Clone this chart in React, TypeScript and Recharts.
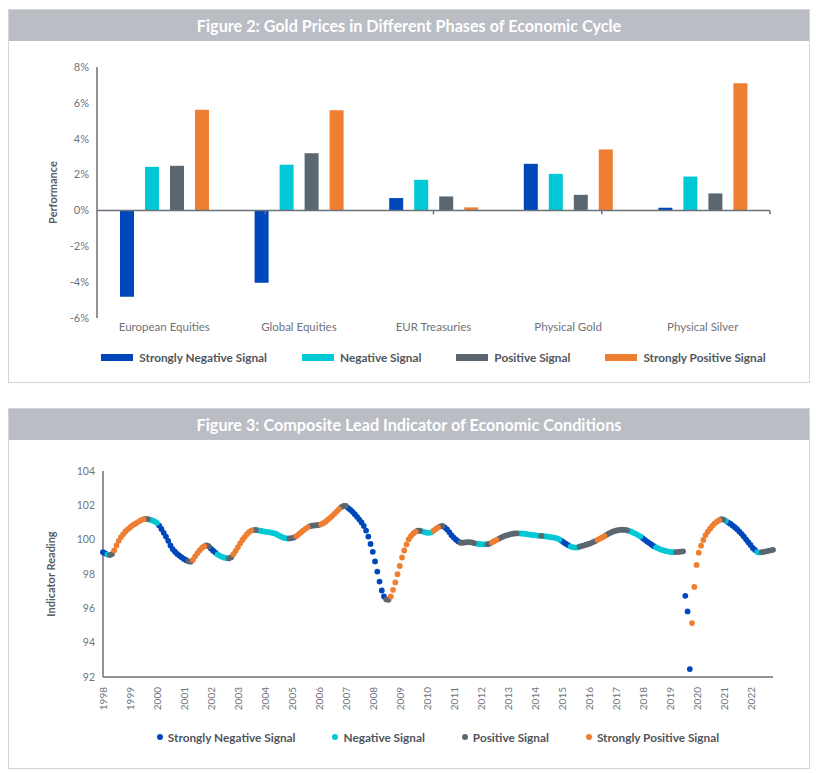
import React from 'react';
import { BarChart, Bar, XAxis, YAxis, ReferenceLine, ScatterChart, Scatter, Label } from 'recharts';

const FONT = 'Lato, "Open Sans", sans-serif';
const AXIS = '#6b7178';
const TICK = '#6f737a';
const LEGEND_TXT = '#4f555c';
const TITLE_BG = '#babdc4';
const BORDER = '#d3d4d7';

const signalNames = ['Strongly Negative Signal', 'Negative Signal', 'Positive Signal', 'Strongly Positive Signal'];
const signalColors = ['#0047bb', '#00c8d4', '#5b6770', '#ee7f32'];
const signalCodes = ['B', 'C', 'G', 'O'];

// ---------- Figure 2 data ----------
const assetClasses = ['European Equities', 'Global Equities', 'EUR Treasuries', 'Physical Gold', 'Physical Silver'];
const stronglyNegative = [-4.82, -4.03, 0.69, 2.6, 0.15];
const negative = [2.43, 2.55, 1.71, 2.04, 1.89];
const positive = [2.49, 3.19, 0.78, 0.87, 0.95];
const stronglyPositive = [5.61, 5.59, 0.17, 3.4, 7.09];
const perfTicks = [-6, -4, -2, 0, 2, 4, 6, 8];

// ---------- Figure 3 data (monthly) ----------
const yearLabels = ['1998', '1999', '2000', '2001', '2002', '2003', '2004', '2005', '2006', '2007', '2008', '2009', '2010', '2011', '2012', '2013', '2014', '2015', '2016', '2017', '2018', '2019', '2020', '2021', '2022'];
const cliTicks = [92, 94, 96, 98, 100, 102, 104];
const cliValues = [
  99.27, 99.2, 99.13, 99.1, 99.16, 99.38, 99.66, 99.93, 100.15, 100.32, 100.48, 100.6,
  100.71, 100.82, 100.9, 100.98, 101.07, 101.14, 101.19, 101.21, 101.2, 101.16, 101.12, 101.06,
  100.98, 100.82, 100.62, 100.4, 100.18, 99.93, 99.66, 99.45, 99.3, 99.17, 99.07, 98.97,
  98.88, 98.8, 98.74, 98.72, 98.82, 99.03, 99.22, 99.38, 99.52, 99.62, 99.67, 99.62,
  99.48, 99.36, 99.25, 99.14, 99.06, 99.0, 98.95, 98.92, 98.91, 98.98, 99.15, 99.34,
  99.56, 99.78, 99.98, 100.15, 100.32, 100.45, 100.53, 100.56, 100.57, 100.54, 100.52, 100.49,
  100.47, 100.45, 100.43, 100.41, 100.38, 100.33, 100.26, 100.19, 100.13, 100.09, 100.07, 100.07,
  100.09, 100.13, 100.21, 100.31, 100.42, 100.53, 100.63, 100.72, 100.78, 100.81, 100.83, 100.84,
  100.86, 100.9, 100.96, 101.05, 101.16, 101.27, 101.39, 101.52, 101.65, 101.78, 101.89, 101.96,
  101.97, 101.85, 101.75, 101.62, 101.48, 101.33, 101.17, 101.0, 100.8, 100.53, 100.18, 99.75,
  99.29, 98.73, 98.14, 97.56, 97.04, 96.69, 96.52, 96.5, 96.69, 97.08, 97.51, 97.99,
  98.47, 98.96, 99.37, 99.72, 100.03, 100.22, 100.36, 100.46, 100.52, 100.52, 100.48, 100.44,
  100.41, 100.4, 100.43, 100.52, 100.62, 100.71, 100.78, 100.8, 100.72, 100.6, 100.44, 100.26,
  100.12, 100.0, 99.9, 99.82, 99.82, 99.84, 99.86, 99.86, 99.84, 99.8, 99.77, 99.75,
  99.74, 99.73, 99.73, 99.74, 99.77, 99.84, 99.91, 99.98, 100.05, 100.12, 100.18, 100.23,
  100.27, 100.31, 100.34, 100.36, 100.37, 100.37, 100.36, 100.35, 100.33, 100.31, 100.29, 100.27,
  100.26, 100.24, 100.23, 100.22, 100.21, 100.19, 100.17, 100.15, 100.13, 100.11, 100.07, 100.01,
  99.93, 99.84, 99.75, 99.67, 99.6, 99.56, 99.54, 99.55, 99.59, 99.63, 99.67, 99.71,
  99.75, 99.8, 99.86, 99.92, 99.99, 100.06, 100.13, 100.2, 100.28, 100.36, 100.42, 100.48,
  100.52, 100.55, 100.57, 100.58, 100.57, 100.55, 100.51, 100.46, 100.4, 100.34, 100.27, 100.19,
  100.09, 99.99, 99.89, 99.8, 99.71, 99.62, 99.55, 99.49, 99.44, 99.39, 99.35, 99.32,
  99.29, 99.27, 99.27, 99.28, 99.29, 99.3, 99.32, 96.73, 95.82, 92.46, 95.14, 97.25,
  98.53, 99.24, 99.65, 99.98, 100.27, 100.47, 100.64, 100.8, 100.94, 101.05, 101.13, 101.19,
  101.17, 101.1, 101.01, 100.93, 100.83, 100.73, 100.61, 100.48, 100.34, 100.19, 100.02, 99.85,
  99.69, 99.52, 99.4, 99.28, 99.25, 99.27, 99.29, 99.32, 99.35, 99.38, 99.41,
];
// signal per month, one string per year (B strongly negative, C negative, G positive, O strongly positive)
const cliSignals = [
  'BBCGGOOOOOOO', 'OOOOOOOGGCCC', 'CBBBBBBBBBBB', 'BBGGOOOOOOGG', 'BBBCCCCCGGOO',
  'OOOOOOOGGCCC', 'CCCCCCCCCCCG', 'GGOOOOOOGGGG', 'GOOOOOOOOOGG', 'GBBBBBBBBBBB',
  'BBBBBBGGOOOO', 'OOOOOOOOGGCC', 'CCCOOOGGBBBB', 'BBBGGGGGGGCC', 'CCCGGOOOGGGG',
  'GGGGGCCCCCCC', 'CCCGCCCCCCCC', 'BBBBCCCCGGGG', 'GGGGOOOOGGGG', 'GGGGGGCCCCCC',
  'BBBBBBCCCCCC', 'CCCGGGGBBBOO', 'OOOOOOOOOOOG', 'GCBBBBBBBBBB', 'BBBCCGGGGGG',
];

const barData = assetClasses.map((name, i) => ({
  name,
  sneg: stronglyNegative[i],
  neg: negative[i],
  pos: positive[i],
  spos: stronglyPositive[i],
}));
const barKeys = ['sneg', 'neg', 'pos', 'spos'];

const flatSignals = cliSignals.join('').split('');
const cliPoints = cliValues.map((v, i) => ({ x: i, y: v, s: signalCodes.indexOf(flatSignals[i]) }));
const seriesPoints = signalCodes.map((_, k) => cliPoints.filter((p) => p.s === k));
const yearTicks = yearLabels.map((_, k) => k * 12);
const lastIndex = cliValues.length - 1;

const VerticalTitle = ({ viewBox, value, off }: any) => {
  const cx = viewBox.x + off;
  const cy = viewBox.y + viewBox.height / 2;
  return (
    <text
      x={cx}
      y={cy}
      transform={`rotate(-90 ${cx} ${cy})`}
      textAnchor="middle"
      dominantBaseline="central"
      fill="#565c63"
      fontSize={11}
      fontWeight={700}
      fontFamily={FONT}
    >
      {value}
    </text>
  );
};

const YearTick = (props: any) => {
  const { x, y, payload } = props;
  const ty = y + 2;
  return (
    <text
      x={x}
      y={ty}
      transform={`rotate(-90 ${x} ${ty})`}
      textAnchor="end"
      dominantBaseline="central"
      fill={TICK}
      fontSize={10}
      fontFamily={FONT}
    >
      {yearLabels[Math.round(payload.value / 12)]}
    </text>
  );
};

const titleStyle: React.CSSProperties = {
  position: 'absolute',
  left: 0,
  top: 0,
  right: 0,
  height: 31,
  background: TITLE_BG,
  color: '#ffffff',
  fontFamily: FONT,
  fontWeight: 700,
  fontSize: 16.2,
  lineHeight: '31px',
  textAlign: 'center',
};

const panelStyle = (top: number, height: number): React.CSSProperties => ({
  position: 'absolute',
  left: 0,
  top,
  width: 802,
  height,
  boxSizing: 'border-box',
  border: `1px solid ${BORDER}`,
  background: '#ffffff',
});

export default function App() {
  return (
    <div style={{ position: 'relative', width: 802, height: 765, fontFamily: FONT }}>
      <div style={panelStyle(1, 374)}>
        <div style={titleStyle}>Figure 2: Gold Prices in Different Phases of Economic Cycle</div>
      </div>
      <div style={panelStyle(400, 361)}>
        <div style={titleStyle}>Figure 3: Composite Lead Indicator of Economic Conditions</div>
      </div>

      <div style={{ position: 'absolute', left: 0, top: 33 }}>
        <BarChart
          width={802}
          height={307}
          data={barData}
          margin={{ top: 26, right: 40, bottom: 0, left: 0 }}
          barSize={14}
          barGap={11}
        >
          <XAxis
            dataKey="name"
            axisLine={false}
            tickLine={false}
            tickSize={5}
            tickMargin={0}
            interval={0}
            height={30}
            tick={{ fill: TICK, fontSize: 11.5, fontFamily: FONT }}
          />
          <XAxis xAxisId="b" type="number" domain={[0, 5]} hide />
          <YAxis
            width={89}
            domain={[-6, 8]}
            ticks={perfTicks}
            interval={0}
            tickFormatter={(v: number) => `${v}%`}
            axisLine={{ stroke: AXIS, strokeWidth: 1.5 }}
            tickLine={false}
            tick={{ fill: TICK, fontSize: 11, fontFamily: FONT }}
            label={<Label content={(p: any) => <VerticalTitle viewBox={p.viewBox} value="Performance" off={44} />} />}
          />
          {barKeys.map((k, i) => (
            <Bar key={k} dataKey={k} fill={signalColors[i]} isAnimationActive={false} />
          ))}
          <ReferenceLine y={0} stroke={AXIS} strokeWidth={1.5} />
          {[1, 2, 3, 4, 5].map((k) => (
            <ReferenceLine
              key={k}
              xAxisId="b"
              segment={[{ x: k, y: 0 }, { x: k, y: -0.22 }]}
              stroke={AXIS}
              strokeWidth={1.5}
            />
          ))}
        </BarChart>
      </div>

      <div
        style={{
          position: 'absolute',
          left: 89,
          width: 673,
          top: 341,
          height: 16,
          display: 'flex',
          justifyContent: 'center',
          alignItems: 'center',
          gap: 35,
        }}
      >
        {signalNames.map((n, i) => (
          <div key={n} style={{ display: 'flex', alignItems: 'center' }}>
            <div style={{ width: 32, height: 7, background: signalColors[i], marginRight: 6 }} />
            <span style={{ fontSize: 11.8, fontWeight: 700, color: LEGEND_TXT, whiteSpace: 'nowrap' }}>{n}</span>
          </div>
        ))}
      </div>

      <div style={{ position: 'absolute', left: 0, top: 433 }}>
        <ScatterChart width={802} height={276} margin={{ top: 30, right: 37, bottom: 0, left: 0 }}>
          <XAxis
            type="number"
            dataKey="x"
            domain={[0, lastIndex]}
            ticks={yearTicks}
            interval={0}
            axisLine={{ stroke: AXIS, strokeWidth: 1.5 }}
            tickLine={false}
            height={40}
            tick={(p: any) => <YearTick {...p} />}
          />
          <YAxis
            type="number"
            dataKey="y"
            width={95}
            domain={[92, 104]}
            ticks={cliTicks}
            interval={0}
            axisLine={{ stroke: AXIS, strokeWidth: 1.5 }}
            tickLine={false}
            tick={{ fill: TICK, fontSize: 10.5, fontFamily: FONT }}
            label={<Label content={(p: any) => <VerticalTitle viewBox={p.viewBox} value="Indicator Reading" off={42} />} />}
          />
          {seriesPoints.map((pts, k) => (
            <Scatter
              key={k}
              name={signalNames[k]}
              data={pts}
              fill={signalColors[k]}
              isAnimationActive={false}
              shape={(p: any) => <circle cx={p.cx} cy={p.cy} r={2.9} fill={signalColors[k]} />}
            />
          ))}
        </ScatterChart>
      </div>

      <div
        style={{
          position: 'absolute',
          left: 95,
          width: 670,
          top: 721,
          height: 16,
          display: 'flex',
          justifyContent: 'center',
          alignItems: 'center',
          gap: 37,
        }}
      >
        {signalNames.map((n, i) => (
          <div key={n} style={{ display: 'flex', alignItems: 'center' }}>
            <div style={{ width: 6, height: 6, borderRadius: 3, background: signalColors[i], marginRight: 5 }} />
            <span style={{ fontSize: 11.8, fontWeight: 700, color: LEGEND_TXT, whiteSpace: 'nowrap' }}>{n}</span>
          </div>
        ))}
      </div>
    </div>
  );
}
